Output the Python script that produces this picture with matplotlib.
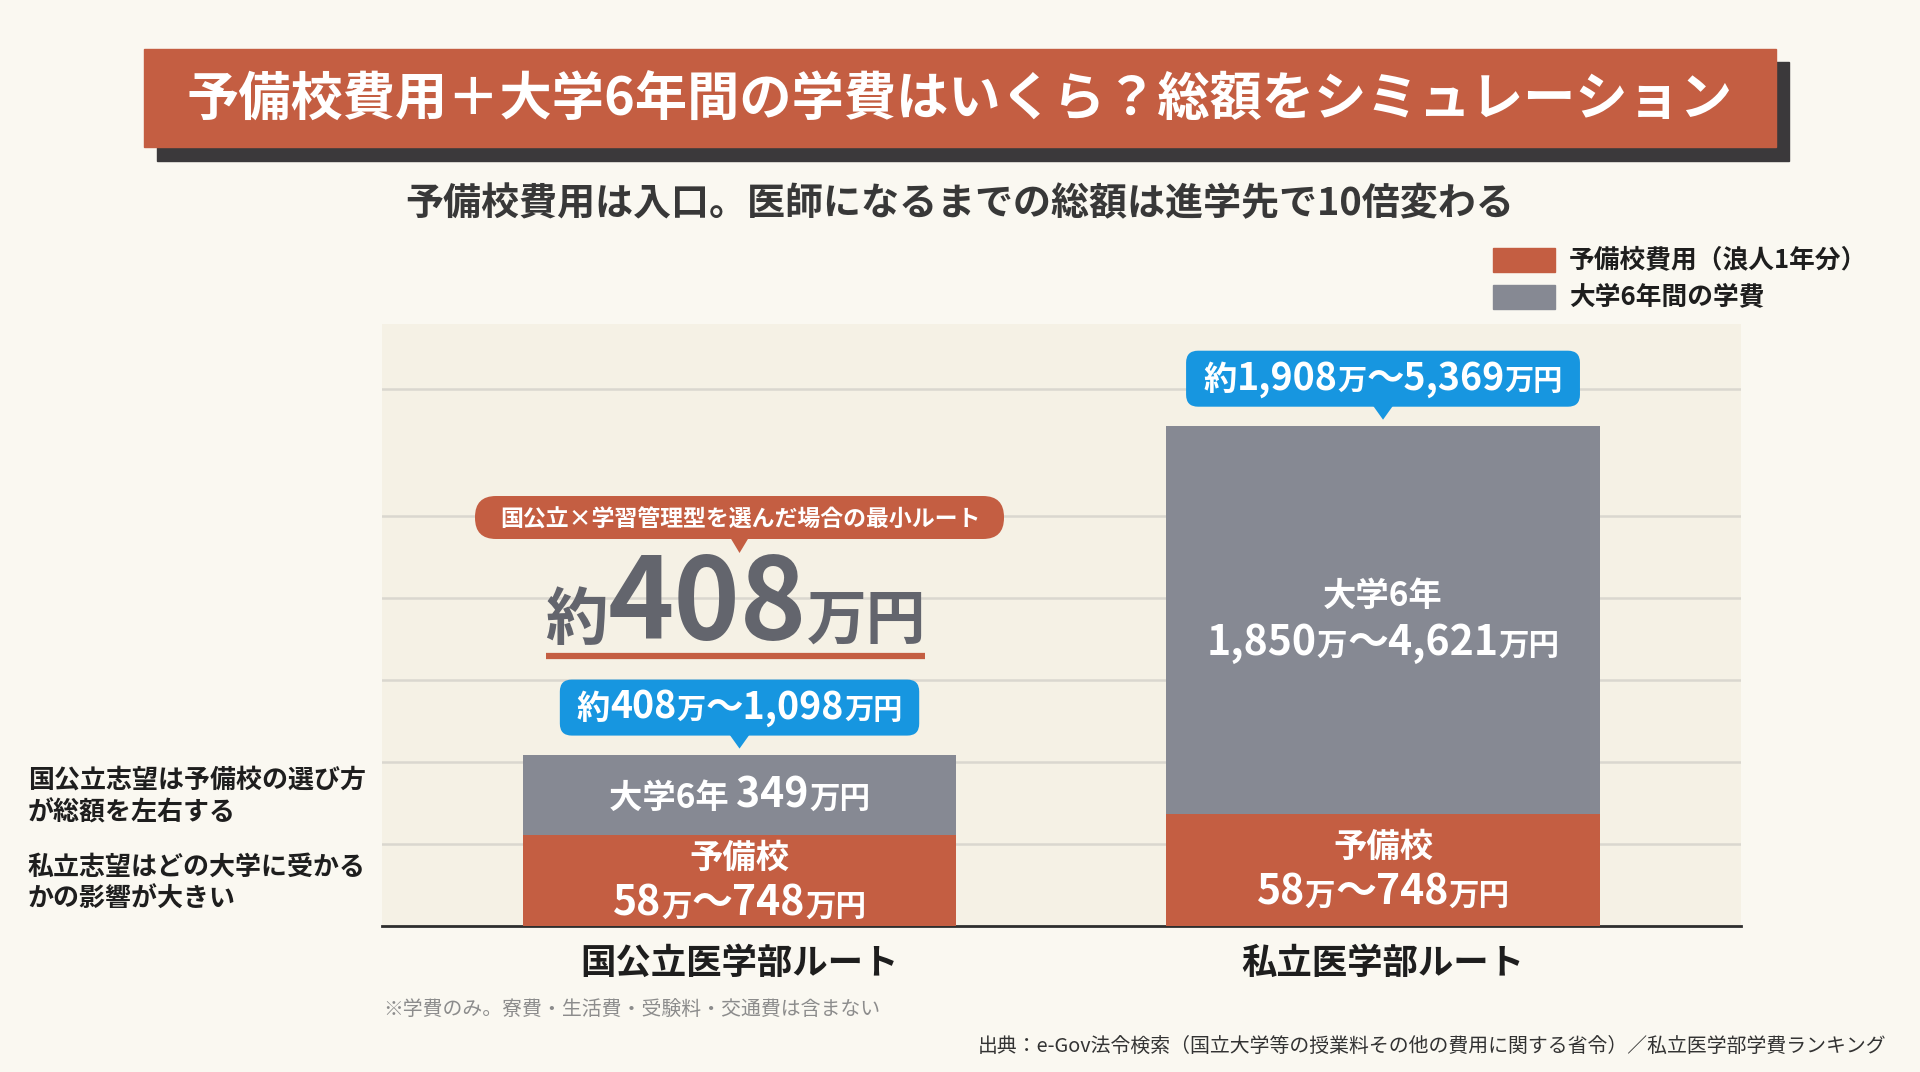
import matplotlib
matplotlib.use('Agg')
import matplotlib.pyplot as plt
from matplotlib.patches import FancyBboxPatch, Rectangle, Polygon
from matplotlib.transforms import IdentityTransform

plt.rcParams['font.family'] = ['Noto Sans CJK JP', 'DejaVu Sans']

W, H, DPI = 1920, 1072, 100

# ---------------- data ----------------
routes = ['国公立医学部ルート', '私立医学部ルート']
# schematic segment heights as drawn (not to scale with the money labels)
yobikou_h = [111, 137]
daigaku_h = [98, 473]
grid_vals = [100, 200, 300, 400, 500, 655]
y_max = 734
legend_labels = ['予備校費用（浪人1年分）', '大学6年間の学費']
yobikou_caption = ['予備校', '予備校']
yobikou_labels = ['58万～748万円', '58万～748万円']
daigaku_caption = ['大学6年', '大学6年']
daigaku_labels = ['349万円', '1,850万～4,621万円']
total_labels = ['約408万～1,098万円', '約1,908万～5,369万円']
min_route_note = '国公立×学習管理型を選んだ場合の最小ルート'
min_route_value = '約408万円'
title = '予備校費用＋大学6年間の学費はいくら？総額をシミュレーション'
subtitle = '予備校費用は入口。医師になるまでの総額は進学先で10倍変わる'
side_notes = [['国公立志望は予備校の選び方', 'が総額を左右する'],
              ['私立志望はどの大学に受かる', 'かの影響が大きい']]
footnote = '※学費のみ。寮費・生活費・受験料・交通費は含まない'
source = '出典：e-Gov法令検索（国立大学等の授業料その他の費用に関する省令）／私立医学部学費ランキング'

# ---------------- style ----------------
BG = '#FAF8F1'
PLOT_BG = '#F5F1E5'
ORANGE = '#C45E42'
GRAY = '#868993'
BLUE = '#1796E0'
SHADOW = '#3B393B'
DARK = '#1E1E1E'

fig = plt.figure(figsize=(W / DPI, H / DPI), dpi=DPI, facecolor=BG)

# main chart axes (pixel box 382..1741 x, 324..926 y)
L, R, T, B = 382, 1741, 324, 926
ax = fig.add_axes([L / W, 1 - B / H, (R - L) / W, (B - T) / H])
ax.set_facecolor(PLOT_BG)
x = [0, 1]
bw = 0.673
ax.bar(x, yobikou_h, width=bw, color=ORANGE, zorder=3)
ax.bar(x, daigaku_h, bottom=yobikou_h, width=bw, color=GRAY, zorder=3)
ax.set_xlim(-0.5556, 1.5563)
ax.set_ylim(0, y_max)
ax.set_yticks(grid_vals)
ax.yaxis.grid(True, color='#DAD7CF', lw=1.8, zorder=0)
ax.set_axisbelow(True)
ax.tick_params(axis='y', length=0, labelleft=False)
ax.set_xticks(x)
ax.set_xticklabels(routes, fontsize=25.5, fontweight='bold', color=DARK)
ax.tick_params(axis='x', length=0, pad=14)
for s in ['left', 'right', 'top']:
    ax.spines[s].set_visible(False)
ax.spines['bottom'].set_color('#2E2E2E')
ax.spines['bottom'].set_linewidth(2)

# overlay axes in pixel coordinates (y downward)
ov = fig.add_axes([0, 0, 1, 1])
ov.set_xlim(0, W)
ov.set_ylim(H, 0)
ov.axis('off')
ov.patch.set_visible(False)


def to_px(xd, yd):
    X, Y = ax.transData.transform((xd, yd))
    return X, H - Y


renderer = fig.canvas.get_renderer()


def split_rich(s, big, small, mid):
    parts = []
    for ch in s:
        if ch in '0123456789,～':
            sz = big
        elif ch in '万円':
            sz = small
        else:
            sz = mid
        if parts and parts[-1][1] == sz:
            parts[-1] = (parts[-1][0] + ch, sz)
        else:
            parts.append((ch, sz))
    return parts


def rich(parts, cx, base_y, color='white', weight='bold', ha='center'):
    objs = []
    for s, sz in parts:
        t = fig.text(0, 0, s, fontsize=sz, fontweight=weight, color=color,
                     va='baseline', ha='left', transform=IdentityTransform(), zorder=10)
        objs.append(t)
    widths = [t.get_window_extent(renderer).width for t in objs]
    total = sum(widths)
    xx = cx - total / 2 if ha == 'center' else cx
    for t, w in zip(objs, widths):
        t.set_position((xx, H - base_y))
        xx += w
    return total


# ---------------- title banner ----------------
ov.add_patch(Rectangle((157, 62), 1632, 99, color=SHADOW, zorder=1))
ov.add_patch(Rectangle((144, 49), 1632, 98, color=ORANGE, zorder=2))
ov.text(960, 100, title, fontsize=37.6, fontweight='bold', color='white',
        ha='center', va='center', zorder=3)

ov.text(960, 204, subtitle, fontsize=27.4, fontweight='bold', color='#383838',
        ha='center', va='center')

# legend
for i, (lab, col) in enumerate(zip(legend_labels, [ORANGE, GRAY])):
    y0 = 248 + i * 37
    ov.add_patch(Rectangle((1493, y0), 62, 24, color=col))
    ov.text(1569, y0 + 12, lab, fontsize=18.5, fontweight='bold', color=DARK,
            ha='left', va='center')

# ---------------- bar labels ----------------
for i in range(2):
    cx, _ = to_px(x[i], 0)
    _, ytop = to_px(x[i], yobikou_h[i])
    _, ybot = to_px(x[i], 0)
    if i == 0:
        rich([(yobikou_caption[i], 24)], cx, ytop + 33)
        rich(split_rich(yobikou_labels[i], 29.5, 22, 24), cx, ybot - 10)
    else:
        rich([(yobikou_caption[i], 24)], cx, ytop + 43)
        rich(split_rich(yobikou_labels[i], 29.5, 22, 24), cx, ytop + 91)

# gray segment labels
cx0, yg0 = to_px(x[0], yobikou_h[0] + daigaku_h[0] / 2)
rich([(daigaku_caption[0] + ' ', 24)] + split_rich(daigaku_labels[0], 29.5, 22, 24),
     cx0, yg0 + 13)
cx1, _ = to_px(x[1], 0)
rich([(daigaku_caption[1], 24)], cx1, 606)
rich(split_rich(daigaku_labels[1], 29.5, 22, 24), cx1, 655)

# ---------------- blue total callouts ----------------
for i in range(2):
    cx, ytop = to_px(x[i], yobikou_h[i] + daigaku_h[i])
    tip = ytop - 6
    bot = tip - 13
    hgt = 56
    parts = split_rich(total_labels[i], 27, 21, 24)
    tw = rich(parts, cx, bot - 17, color='white')
    bwid = tw + 34
    ov.add_patch(FancyBboxPatch((cx - bwid / 2, bot - hgt), bwid, hgt,
                                boxstyle='round,pad=0,rounding_size=12',
                                fc=BLUE, ec='none', zorder=5))
    ov.add_patch(Polygon([(cx - 10, bot - 1), (cx + 10, bot - 1), (cx, tip)],
                         closed=True, fc=BLUE, ec='none', zorder=5))

# ---------------- minimum route highlight ----------------
cxl, _ = to_px(x[0], 0)
ov.add_patch(FancyBboxPatch((475, 496), 529, 43,
                            boxstyle='round,pad=0,rounding_size=21',
                            fc=ORANGE, ec='none', zorder=5))
ov.add_patch(Polygon([(cxl - 9, 538), (cxl + 9, 538), (cxl, 553)],
                     closed=True, fc=ORANGE, ec='none', zorder=5))
rich([(min_route_note, 16.5)], 740, 527, color='white')

rich([(min_route_value[0], 45), (min_route_value[1:4], 81), (min_route_value[4:], 43)],
     736, 639, color='#63656D')
ov.plot([546, 925], [656, 656], color=ORANGE, lw=4.5, solid_capstyle='butt', zorder=5)

# ---------------- side notes ----------------
ys = [[780, 813], [867, 899]]
for block, yy in zip(side_notes, ys):
    for line, yv in zip(block, yy):
        ov.text(28, yv, line, fontsize=18.7, fontweight='bold', color=DARK,
                ha='left', va='center')

# ---------------- footnotes ----------------
ov.text(383, 1009, footnote, fontsize=14.3, color='#8C8C8C', ha='left', va='center')
ov.text(1886, 1046, source, fontsize=14.3, color='#333333', ha='right', va='center')

fig.savefig('out.png', dpi=DPI, facecolor=BG)
